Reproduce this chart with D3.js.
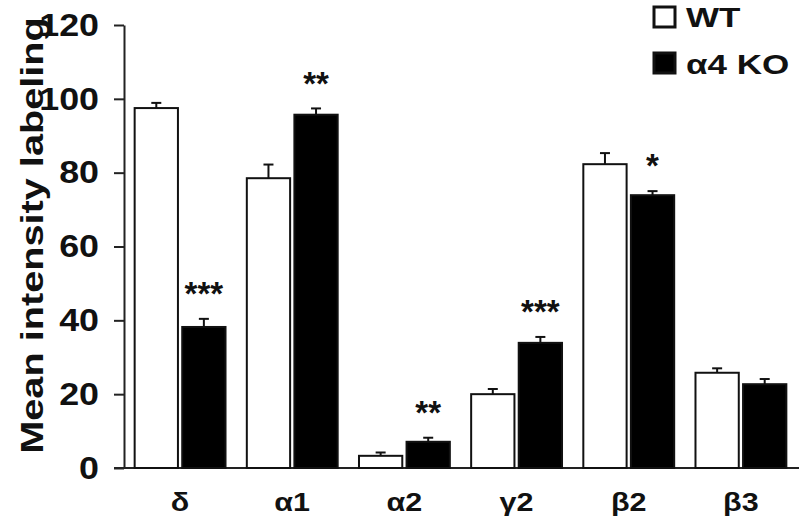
<!DOCTYPE html>
<html>
<head>
<meta charset="utf-8">
<script src="https://cdn.jsdelivr.net/npm/d3@7"></script>
<style>
  body { margin: 0; background: #fff; }
  text { font-family: "Liberation Sans", Arial, sans-serif; font-weight: bold; fill: #111; }
</style>
</head>
<body>
<div id="chart"></div>
<script>
const categories = ["δ", "α1", "α2", "γ2", "β2", "β3"];
const series = ["WT", "α4 KO"];
const wtValues = [97.5, 78.5, 3.3, 20.0, 82.3, 25.8];
const wtErrors = [1.4, 3.7, 0.9, 1.4, 3.0, 1.2];
const koValues = [38.2, 95.7, 7.1, 33.9, 73.9, 22.7];
const koErrors = [2.2, 1.7, 1.1, 1.6, 1.1, 1.4];
const stars = ["***", "**", "**", "***", "*", ""];
const yTicks = [0, 20, 40, 60, 80, 100, 120];

const width = 800, height = 520;
const margin = { top: 25, right: 3, bottom: 52, left: 124 };

const svg = d3.select('#chart')
    .append('svg')
    .attr('width', width)
    .attr('height', height);

const x0 = d3.scaleBand()
    .domain(categories)
    .range([margin.left, width - margin.right])
    .paddingInner(0.19)
    .paddingOuter(0.095);

const x1 = d3.scaleBand()
    .domain(series)
    .range([0, x0.bandwidth()])
    .paddingInner(0.09);

const y = d3.scaleLinear()
    .domain([0, 120])
    .range([height - margin.bottom, margin.top]);

// rows for bars
const rows = [];
categories.forEach((c, i) => {
    rows.push({ cat: c, s: series[0], v: wtValues[i], e: wtErrors[i] });
    rows.push({ cat: c, s: series[1], v: koValues[i], e: koErrors[i], star: stars[i] });
});

// y axis
const yAxis = svg.append('g')
    .attr('transform', `translate(${margin.left},0)`)
    .attr('font-size', null)
    .attr('font-family', null)
    .call(d3.axisLeft(y).tickValues(yTicks).tickSize(10).tickSizeOuter(0).tickPadding(15));
yAxis.attr('font-size', 32).attr('font-family', '"Liberation Sans", Arial, sans-serif');
yAxis.selectAll('path, line').attr('stroke', '#222').attr('stroke-width', 2);
yAxis.selectAll('text')
    .attr('class', 'tick-label')
    .attr('font-size', 32)
    .attr('font-weight', 'bold')
    .attr('fill', '#111');

// x axis baseline
svg.append('line')
    .attr('x1', margin.left - 10)
    .attr('x2', width - 1)
    .attr('y1', y(0))
    .attr('y2', y(0))
    .attr('stroke', '#222')
    .attr('stroke-width', 2);

// category labels
svg.selectAll('.cat-label')
    .data(categories)
    .enter()
    .append('text')
    .attr('class', 'cat-label')
    .attr('x', d => x0(d) + x0.bandwidth() / 2)
    .attr('y', 511)
    .attr('text-anchor', 'middle')
    .style('font-size', '25px')
    .text(d => d);

// bars
svg.selectAll('.bar')
    .data(rows)
    .enter()
    .append('rect')
    .attr('class', 'bar')
    .attr('x', d => x0(d.cat) + x1(d.s))
    .attr('y', d => y(d.v))
    .attr('width', x1.bandwidth())
    .attr('height', d => y(0) - y(d.v))
    .attr('fill', d => d.s === series[0] ? '#fff' : '#000')
    .attr('stroke', '#111')
    .attr('stroke-width', 2);

// error bars (upper only)
const err = svg.selectAll('.err')
    .data(rows)
    .enter()
    .append('g')
    .attr('class', 'err')
    .attr('stroke', '#111')
    .attr('stroke-width', 2);
err.append('line')
    .attr('x1', d => x0(d.cat) + x1(d.s) + x1.bandwidth() / 2)
    .attr('x2', d => x0(d.cat) + x1(d.s) + x1.bandwidth() / 2)
    .attr('y1', d => y(d.v))
    .attr('y2', d => y(d.v + d.e));
err.append('line')
    .attr('x1', d => x0(d.cat) + x1(d.s) + x1.bandwidth() / 2 - 5)
    .attr('x2', d => x0(d.cat) + x1(d.s) + x1.bandwidth() / 2 + 5)
    .attr('y1', d => y(d.v + d.e))
    .attr('y2', d => y(d.v + d.e));

// significance stars
svg.selectAll('.star')
    .data(rows.filter(d => d.star))
    .enter()
    .append('text')
    .attr('class', 'star')
    .attr('x', d => x0(d.cat) + x1(d.s) + x1.bandwidth() / 2)
    .attr('y', d => y(d.v + d.e) - 33)
    .attr('dy', '0.58em')
    .attr('text-anchor', 'middle')
    .style('font-size', '33px')
    .text(d => d.star);

// y axis title
svg.append('text')
    .attr('class', 'y-title')
    .attr('transform', `translate(43,${(10 + 461) / 2}) rotate(-90)`)
    .attr('text-anchor', 'middle')
    .style('font-size', '31px')
    .text('Mean intensity labeling');

// legend
const legend = svg.append('g').attr('transform', 'translate(654,7)');
legend.selectAll('rect')
    .data(series)
    .enter()
    .append('rect')
    .attr('x', 0)
    .attr('y', (d, i) => i * 46)
    .attr('width', 21)
    .attr('height', 20)
    .attr('fill', (d, i) => i === 0 ? '#fff' : '#000')
    .attr('stroke', '#111')
    .attr('stroke-width', 3);
legend.selectAll('text')
    .data(series)
    .enter()
    .append('text')
    .attr('class', 'legend-label')
    .attr('x', 32)
    .attr('y', (d, i) => 20 + i * 47)
    .style('font-size', '28px')
    .text(d => d);

// the figure's lettering is horizontally widened; stretch text to match
function stretch(sel, k) {
    sel.each(function() {
        const len = this.getComputedTextLength();
        d3.select(this).attr('textLength', len * k).attr('lengthAdjust', 'spacingAndGlyphs');
    });
}
stretch(svg.selectAll('.tick-label'), 1.12);
stretch(svg.selectAll('.cat-label'), 1.22);
stretch(svg.selectAll('.y-title'), 1.28);
stretch(svg.selectAll('.legend-label'), 1.25);
</script>
</body>
</html>
